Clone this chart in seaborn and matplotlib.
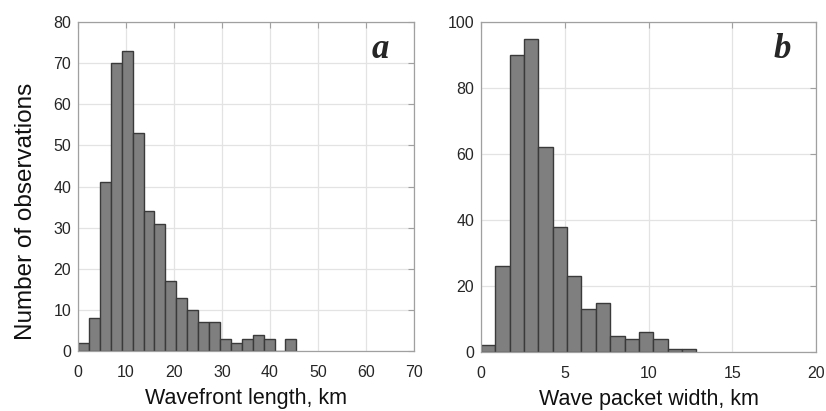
import numpy as np
import pandas as pd
import matplotlib.pyplot as plt
import seaborn as sns

# histogram counts
length_counts = [2, 8, 41, 70, 73, 53, 34, 31, 17, 13, 10, 7, 7, 3, 2, 3, 4, 3, 0, 3]
length_binw = 2.275
width_counts = [2, 26, 90, 95, 62, 38, 23, 13, 15, 5, 4, 6, 4, 1, 1]
width_binw = 0.857

sns.set_style("white")
plt.rcParams['font.family'] = ['Liberation Sans', 'DejaVu Sans']

fig = plt.figure(figsize=(8.26, 4.11), dpi=100)
ax1 = fig.add_axes([78/826, 1 - 351/411, 336/826, 329/411])
ax2 = fig.add_axes([481/826, 1 - 352/411, 335/826, 330/411])


def draw(ax, counts, binw, xmax, xstep, ymax, ystep, xlabel, letter):
    n = len(counts)
    df = pd.DataFrame({'center': (np.arange(n) + 0.5) * binw, 'count': counts})
    sns.histplot(data=df, x='center', weights='count', binwidth=binw,
                 binrange=(0, n * binw), ax=ax,
                 color='#7f7f7f', edgecolor='#3a3a3a', linewidth=1.0, alpha=1)
    ax.set_xlim(0, xmax)
    ax.set_ylim(0, ymax)
    ax.set_xticks(np.arange(0, xmax + 1, xstep))
    ax.set_yticks(np.arange(0, ymax + 1, ystep))
    ax.grid(True, color='#e3e3e3', linewidth=0.9)
    ax.set_axisbelow(True)
    for s in ax.spines.values():
        s.set_color('#a0a0a0')
        s.set_linewidth(0.9)
    ax.tick_params(direction='in', length=4, color='#a0a0a0', top=True, right=True,
                   labelsize=11.5, labelcolor='#262626')
    ax.tick_params(axis='x', pad=10)
    ax.tick_params(axis='y', pad=5)
    ax.set_xlabel(xlabel, fontsize=15.5, color='#111111', labelpad=6)
    ax.set_ylabel('')
    ax.text(0.90, 0.89, letter, transform=ax.transAxes, ha='center', va='baseline',
            fontsize=25, fontweight='bold', fontstyle='italic',
            family=['Liberation Serif', 'DejaVu Serif'])


draw(ax1, length_counts, length_binw, 70, 10, 80, 10, 'Wavefront length, km', 'a')
draw(ax2, width_counts, width_binw, 20, 5, 100, 20, 'Wave packet width, km', 'b')
ax1.set_ylabel('Number of observations', fontsize=17.5, color='#111111')
ax1.yaxis.set_label_coords(-0.122, 0.425)

fig.savefig('out.png', dpi=100)
